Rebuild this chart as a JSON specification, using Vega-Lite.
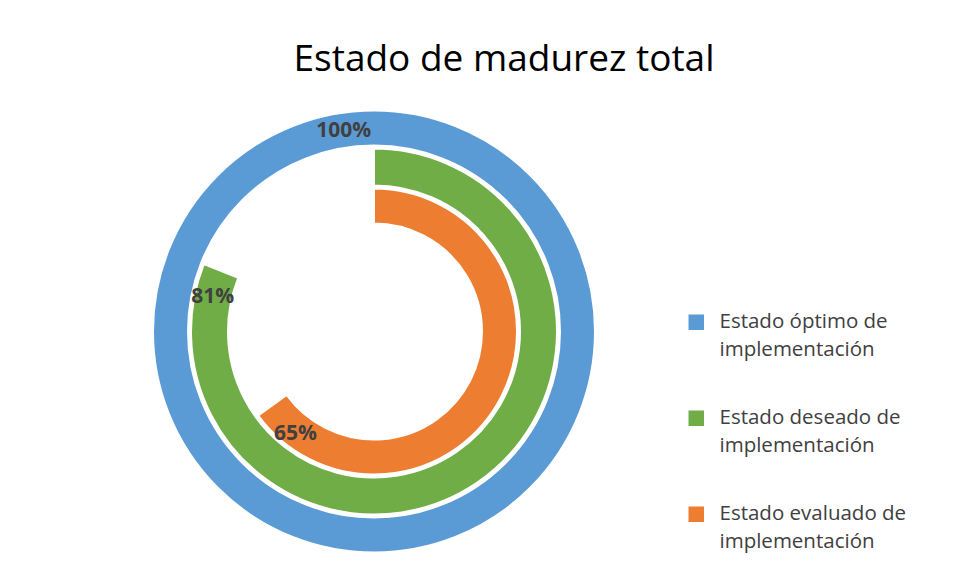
{
  "$schema": "https://vega.github.io/schema/vega-lite/v6.json",
  "width": 748,
  "height": 463,
  "autosize": {"type": "none"},
  "padding": {"left": 0, "top": 100, "right": 213, "bottom": 18},
  "background": "white",
  "config": {"view": {"stroke": null}, "font": "Open Sans", "style": {"guide-label": {"lineHeight": 28}}},
  "title": {
    "text": "Estado de madurez total",
    "font": "Open Sans",
    "fontSize": 37,
    "fontWeight": "normal",
    "color": "#000000",
    "anchor": "middle",
    "dx": 130,
    "offset": -8,
    "baseline": "alphabetic"
  },
  "data": {
    "values": [
      {"serie": "Estado óptimo de implementación", "valor": 100, "etiqueta": "100%"},
      {"serie": "Estado deseado de implementación", "valor": 81, "etiqueta": "81%"},
      {"serie": "Estado evaluado de implementación", "valor": 65, "etiqueta": "65%"}
    ]
  },
  "layer": [
    {
      "transform": [{"filter": "datum.serie === 'Estado óptimo de implementación'"}],
      "mark": {"type": "arc", "radius": 221, "radius2": 186, "stroke": "white", "strokeWidth": 2},
      "encoding": {
        "theta": {"field": "valor", "type": "quantitative", "scale": {"domain": [0, 100]}},
        "color": {
          "field": "serie", "type": "nominal",
          "scale": {"domain": ["Estado óptimo de implementación", "Estado deseado de implementación", "Estado evaluado de implementación"], "range": ["#5B9BD5", "#70AD47", "#ED7D31"]},
          "legend": {
            "orient": "none", "legendX": 686, "legendY": 212, "title": null,
            "symbolType": "square", "symbolSize": 289,
            "labelFont": "Open Sans", "labelFontSize": 20.5, "labelColor": "#404040",
            "labelOffset": 13, "labelLimit": 300, "rowPadding": 45, "padding": 0,
            "labelExpr": "[replace(datum.label, ' implementación', ''), 'implementación']",
            "encode": {
              "labels": {"update": {"lineHeight": {"value": 28}}},
              "symbols": {"update": {
                "fill": {"signal": "datum.value === 'Estado deseado de implementación' ? '#00B050' : (datum.value === 'Estado óptimo de implementación' ? '#5B9BD5' : '#ED7D31')"},
                "stroke": {"signal": "datum.value === 'Estado óptimo de implementación' ? '#41719C' : 'transparent'"},
                "strokeWidth": {"value": 1.5}
              }}
            }
          }
        }
      }
    },
    {
      "transform": [{"filter": "datum.serie === 'Estado deseado de implementación'"}],
      "mark": {"type": "arc", "radius": 183, "radius2": 146, "stroke": "white", "strokeWidth": 2},
      "encoding": {
        "theta": {"field": "valor", "type": "quantitative", "scale": {"domain": [0, 100]}},
        "color": {
          "field": "serie", "type": "nominal", "legend": null,
          "scale": {"domain": ["Estado óptimo de implementación", "Estado deseado de implementación", "Estado evaluado de implementación"], "range": ["#5B9BD5", "#70AD47", "#ED7D31"]}
        }
      }
    },
    {
      "transform": [{"filter": "datum.serie === 'Estado evaluado de implementación'"}],
      "mark": {"type": "arc", "radius": 143, "radius2": 108, "stroke": "white", "strokeWidth": 2},
      "encoding": {
        "theta": {"field": "valor", "type": "quantitative", "scale": {"domain": [0, 100]}},
        "color": {
          "field": "serie", "type": "nominal", "legend": null,
          "scale": {"domain": ["Estado óptimo de implementación", "Estado deseado de implementación", "Estado evaluado de implementación"], "range": ["#5B9BD5", "#70AD47", "#ED7D31"]}
        }
      }
    },
    {
      "transform": [{"filter": "datum.serie === 'Estado óptimo de implementación'"}],
      "mark": {"type": "text", "radius": 203, "thetaOffset": -0.15, "font": "Open Sans", "fontWeight": "bold", "fontSize": 21, "color": "#404040", "align": "center", "baseline": "middle"},
      "encoding": {
        "theta": {"field": "valor", "type": "quantitative", "stack": null, "scale": {"domain": [0, 100]}},
        "text": {"field": "etiqueta"}
      }
    },
    {
      "transform": [{"filter": "datum.serie === 'Estado deseado de implementación'"}],
      "mark": {"type": "text", "radius": 165, "thetaOffset": -0.165, "font": "Open Sans", "fontWeight": "bold", "fontSize": 21, "color": "#404040", "align": "center", "baseline": "middle"},
      "encoding": {
        "theta": {"field": "valor", "type": "quantitative", "stack": null, "scale": {"domain": [0, 100]}},
        "text": {"field": "etiqueta"}
      }
    },
    {
      "transform": [{"filter": "datum.serie === 'Estado evaluado de implementación'"}],
      "mark": {"type": "text", "radius": 129.5, "thetaOffset": -0.29, "font": "Open Sans", "fontWeight": "bold", "fontSize": 21, "color": "#404040", "align": "center", "baseline": "middle"},
      "encoding": {
        "theta": {"field": "valor", "type": "quantitative", "stack": null, "scale": {"domain": [0, 100]}},
        "text": {"field": "etiqueta"}
      }
    }
  ]
}
